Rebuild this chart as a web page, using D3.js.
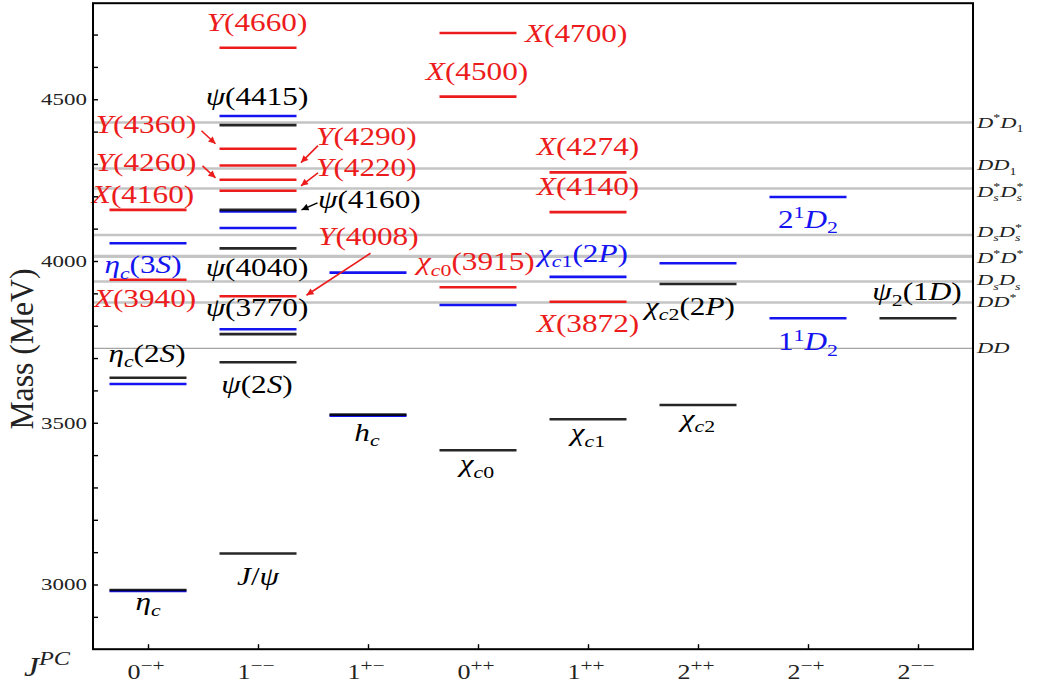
<!DOCTYPE html>
<html><head><meta charset="utf-8">
<script src="https://cdn.jsdelivr.net/npm/d3@7"></script>
<style>
body{margin:0;background:#fff}
svg{display:block}
text,tspan{font-family:"Liberation Serif","Times New Roman",serif}
</style>
</head><body>
<svg id="c" width="1041" height="684"></svg>
<script>
// ---------------- data ----------------
const categories = ["0^{\u2212+}","1^{\u2212\u2212}","1^{+\u2212}","0^{++}","1^{++}","2^{++}","2^{\u2212+}","2^{\u2212\u2212}"];
const massTicks = [3000,3500,4000,4500];
// [category index, mass MeV]
const expLevels = [[0,2983],[0,3639],[1,3096],[1,3687],[1,3774],[1,4039],[1,4158],[1,4420],[2,3525],[3,3415],[4,3511],[5,3555],[5,3929],[7,3823]];
const thLevels  = [[0,2980],[0,3620],[0,4055],[1,3789],[1,4102],[1,4153],[1,4448],[2,3522],[2,3964],[3,3864],[4,3951],[5,3993],[6,3823],[6,4198]];
const newLevels = [[0,3942],[0,4158],[1,3891],[1,4217],[1,4251],[1,4295],[1,4347],[1,4659],[3,3919],[3,4508],[3,4705],[4,3874],[4,4151],[4,4274]];
const thresholdNames  = ["DD","DD^{*}","D_{s}D_{s}","D^{*}D^{*}","D_{s}D_{s}^{*}","D_{s}^{*}D_{s}^{*}","DD_{1}","D^{*}D_{1}"];
const thresholdMasses = [3730,3872,3937,4014,4080,4224,4286,4428];
const stateNames = ["Y(4660)","\u03c8(4415)","Y(4360)","Y(4260)","X(4160)","Y(4290)","Y(4220)","\u03c8(4160)","Y(4008)",
  "\u03c8(4040)","\u03c8(3770)","\u03b7_{c}(3S)","X(3940)","\u03b7_{c}(2S)","\u03c8(2S)","J/\u03c8","\u03b7_{c}","h_{c}","\u03c7_{c0}",
  "\u03c7_{c0}(3915)","X(4500)","X(4700)","\u03c7_{c1}","\u03c7_{c1}(2P)","X(3872)","X(4274)","X(4140)","\u03c7_{c2}","\u03c7_{c2}(2P)",
  "2^{1}D_{2}","1^{1}D_{2}","\u03c8_{2}(1D)"];

// ---------------- layout (label placement relative to a level) ----------------
// [name index, category, reference mass, dx px, dy px, anchor, colour key]
const labelLayout = [
  [0,1,4659,-1,-17,"middle","r"],[1,1,4448,-1,-11,"middle","k"],[2,0,4347,-2,-16,"middle","r"],
  [3,0,4251,-2,-9,"middle","r"],[4,0,4158,-5,-7,"middle","r"],[5,1,4295,58,-21,"start","r"],
  [6,1,4217,58,-15,"start","r"],[7,1,4158,60,-2,"start","k"],[8,1,3891,60,-51,"start","r"],
  [9,1,4039,-1,28,"middle","k"],[10,1,3789,-1,-13,"middle","k"],[11,0,4055,-5,30,"middle","b"],
  [12,0,3942,-3,27,"middle","r"],[13,0,3639,-1,-16,"middle","k"],[14,1,3687,-1,31,"middle","k"],
  [15,1,3096,0,32,"middle","k"],[16,0,2983,0,20,"middle","k"],[17,2,3525,-1,26,"middle","k"],
  [18,3,3415,-1,22,"middle","k"],[19,3,3919,-61,-17,"start","r"],[20,3,4508,-1,-17,"middle","r"],
  [21,3,4705,47,9,"start","r"],[22,4,3511,0,22,"middle","k"],[23,4,3951,-50,-15,"start","b"],
  [24,4,3874,0,30,"middle","r"],[25,4,4274,0,-17,"middle","r"],[26,4,4151,0,-17,"middle","r"],
  [27,5,3555,0,22,"middle","k"],[28,5,3929,-53,31,"start","k"],[29,6,4198,0,31,"middle","b"],
  [30,6,3823,0,32,"middle","b"],[31,7,3823,-1,-18,"middle","k"]
];
// threshold label vertical nudges (px)
const thresholdNudge = [5,5,4,7,2,8,2,5];
// arrows: [category, target mass, side, gap px, end dy, start vector dx, dy, colour]
const arrowLayout = [
  [1,4347,"L",4,-5,-14,-13,"r"],[1,4251,"L",4,-2,-13,-12,"r"],
  [1,4295,"R",4.5,-3,17,-17,"r"],[1,4217,"R",4.5,-5,17,-13,"r"],
  [1,4158,"R",5,0,16,-7,"k"],[1,3891,"R",10,-1,64,-42,"r"]
];

// ---------------- drawing ----------------
const RED="#ec1c1c", BLUE="#1414f0", BLACK="#000";
const COL={r:RED,b:BLUE,k:BLACK};
const FONT='"Liberation Serif","Times New Roman",serif';
const svg=d3.select("#c");
const x=d3.scaleLinear().domain([-0.5,7.5]).range([93,973]);
const y=d3.scaleLinear().domain([2800,4800]).range([649.2,2.2]);
const HW=0.35;

function rich(parent,str,o){
  const t=parent.append("text")
    .attr("transform",`translate(${o.x},${o.y})${o.rot?` rotate(${o.rot})`:""} scale(${o.sx||1},${o.sy||1})`)
    .attr("text-anchor",o.anchor||"start").attr("fill",o.fill||"#000")
    .style("font-family",FONT).style("font-size",o.size+"px");
  const runs=[];let i=0,buf="";
  const flush=()=>{if(buf){runs.push({s:buf,m:"n"});buf="";}};
  while(i<str.length){
    const ch=str[i];
    if(ch==="_"||ch==="^"){
      flush();let g;
      if(str[i+1]==="{"){const j=str.indexOf("}",i+2);g=str.slice(i+2,j);i=j+1;}
      else{g=str[i+1];i+=2;}
      runs.push({s:g,m:ch==="_"?"sub":"sup"});
    } else {buf+=ch;i++;}
  }
  flush();
  const ss=o.subScale||0.7;let cur=0,prev=null;
  runs.forEach(r=>{
    const fs=r.m==="n"?o.size:o.size*ss;
    const target=r.m==="n"?0:(r.m==="sub"?o.size*(o.subDown||0.22):-o.size*(o.supUp||0.38));
    const back=(r.m==="sup"&&prev&&prev.m==="sub")?prev.w:0;
    const pieces=r.s.match(/([A-Za-z\u0370-\u03FF]+|[^A-Za-z\u0370-\u03FF]+)/g);
    let w=0;
    pieces.forEach((p,k)=>{
      const isL=/[A-Za-z\u0370-\u03FF]/.test(p)&&!o.upright;
      const ts=t.append("tspan").text(p).style("font-family",FONT).style("font-size",fs+"px").style("font-style",isL?"italic":"normal");
      if(k===0){ts.attr("dy",target-cur);if(back)ts.attr("dx",-back);cur=target;}
      w+=ts.node().getComputedTextLength();
    });
    r.w=w;prev=r;
  });
  return t;
}

// thresholds
const gTh=svg.append("g");
thresholdMasses.forEach((m,i)=>{
  gTh.append("line").attr("x1",x(-0.5)).attr("x2",x(7.5)).attr("y1",y(m)).attr("y2",y(m))
    .attr("stroke",i===0?"#a4a4a4":"#c4c4c4").attr("stroke-width",i===0?1.4:(i===3?3.2:2.5));
  rich(svg,thresholdNames[i],{x:x(7.5)+4,y:y(m)+thresholdNudge[i],size:15,sx:1.5,fill:"#222",subScale:0.62,supUp:0.42,subDown:0.28});
});

// levels
function drawLevels(arr,col,op){
  svg.append("g").selectAll("line").data(arr).join("line")
    .attr("x1",d=>x(d[0]-HW)).attr("x2",d=>x(d[0]+HW))
    .attr("y1",d=>y(d[1])).attr("y2",d=>y(d[1]))
    .attr("stroke",col).attr("stroke-width",2.6).attr("stroke-opacity",op);
}
drawLevels(thLevels,BLUE,1);
drawLevels(expLevels,BLACK,0.85);
drawLevels(newLevels,RED,1);

// labels
labelLayout.forEach(([ni,c,m,dx,dy,anc,ck])=>{
  rich(svg,stateNames[ni],{x:x(c)+dx,y:y(m)+dy,size:25,sx:1.25,anchor:anc,fill:COL[ck]});
});

// arrows
const defs=svg.append("defs");
[["r",RED],["k",BLACK]].forEach(([id,c])=>{
  defs.append("marker").attr("id","ah-"+id).attr("viewBox","0 0 10 10").attr("refX",10).attr("refY",5)
    .attr("markerWidth",9).attr("markerHeight",7).attr("markerUnits","userSpaceOnUse").attr("orient","auto")
    .append("path").attr("d","M0,0 L10,5 L0,10 z").attr("fill",c);
});
arrowLayout.forEach(([c,m,side,gap,ey,vx,vy,ck])=>{
  const ex=side==="L"?x(c-HW)-gap:x(c+HW)+gap, eyy=y(m)+ey;
  svg.append("line").attr("x1",ex+vx).attr("y1",eyy+vy).attr("x2",ex).attr("y2",eyy)
    .attr("stroke",COL[ck]).attr("stroke-width",1.6).attr("marker-end",`url(#ah-${ck})`);
});

// axes
const yAxis=d3.axisLeft(y).tickValues(d3.range(2900,4800,100)).tickSize(-5).tickPadding(6)
  .tickFormat(d=>massTicks.includes(d)?d:"");
const gy=svg.append("g").attr("transform",`translate(${x(-0.5)},0)`).call(yAxis);
gy.select(".domain").remove();
gy.selectAll(".tick line").attr("stroke","#000").attr("stroke-width",1.4);
gy.selectAll(".tick text").each(function(){
  const t=d3.select(this);const xx=+t.attr("x");
  t.attr("x",0).attr("transform",`translate(${xx},0) scale(1.35,1)`).style("font-size","17px")
   .style("font-family",FONT).attr("fill","#222");
});
const xAxis=d3.axisBottom(x).tickValues(d3.range(8)).tickSize(-5).tickFormat("");
const gx=svg.append("g").attr("transform",`translate(0,${y(2800)})`).call(xAxis);
gx.select(".domain").remove();
gx.selectAll(".tick line").attr("stroke","#000").attr("stroke-width",1.4);
categories.forEach((c,i)=>{
  rich(svg,c,{x:x(i)-2,y:679,size:20,sx:1.3,anchor:"middle",subScale:0.82,supUp:0.42,fill:"#222"});
});

// frame
svg.append("rect").attr("x",x(-0.5)).attr("y",y(4800)+1).attr("width",x(7.5)-x(-0.5)).attr("height",y(2800)-y(4800)-1)
  .attr("fill","none").attr("stroke","#000").attr("stroke-width",2);

// axis titles
svg.append("text").attr("transform","translate(33,349) rotate(-90) scale(1.22,1.3)")
  .attr("text-anchor","middle").style("font-family",FONT).style("font-size","26px").attr("fill","#222").text("Mass (MeV)");
rich(svg,"J^{PC}",{x:24,y:676,size:27,sx:1.25,subScale:0.72,supUp:0.42,fill:"#222"});
</script>
</body></html>
